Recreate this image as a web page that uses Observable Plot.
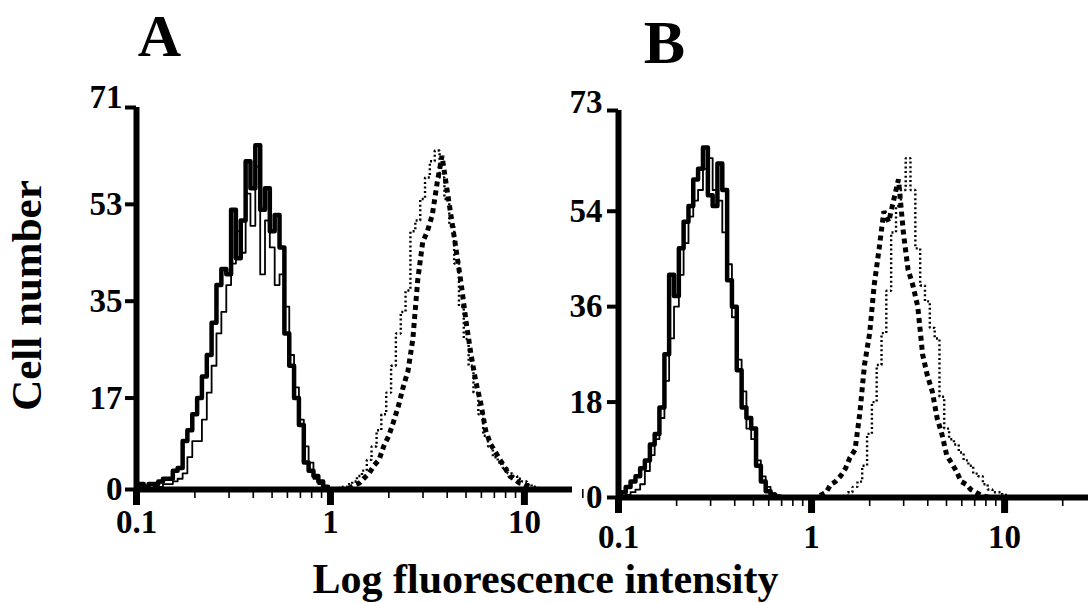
<!DOCTYPE html>
<html><head><meta charset="utf-8">
<script src="https://cdn.jsdelivr.net/npm/d3@7"></script>
<script src="https://cdn.jsdelivr.net/npm/@observablehq/plot@0.6"></script>
<style>
html,body{margin:0;padding:0;background:#fff;}
#chart{position:relative;width:1088px;height:603px;overflow:hidden;background:#fff;}
#chart svg{position:absolute;left:0;top:0;}
</style></head><body><div id="chart"></div>
<script>
// channel grids (log-spaced bins)
const grid1 = [0.100,0.106,0.112,0.119,0.126,0.133,0.141,0.150,0.158,0.168,0.178,0.188,0.200,0.211,0.224,0.237,0.251,0.266,0.282,0.299,0.316,0.335,0.355,0.376,0.398,0.422,0.447,0.473,0.501,0.531,0.562,0.596,0.631,0.668,0.708,0.750,0.794,0.841,0.891,0.944,1.000];
const grid2 = [1.00,1.06,1.12,1.19,1.26,1.33,1.41,1.50,1.58,1.68,1.78,1.88,2.00,2.11,2.24,2.37,2.51,2.66,2.82,2.99,3.16,3.35,3.55,3.76,3.98,4.22,4.47,4.73,5.01,5.31,5.62,5.96,6.31,6.68,7.08,7.50,7.94,8.41,8.91,9.44,10.0,10.6,11.2,11.9,12.6,13.3,14.1,15.0];

// Panel A
const aSolidThick = [0.5,1,0.5,1,1,1.5,2,2,3.5,4,9,11,14,17,21,25,31,38,41,40,52,43,50,61,56,64,52,56,48,51,45,29,23,17,12,5,3.5,2.5,1.5,0.5,0];
const aSolidThin  = [0,0,0,0,0.5,0.5,1,1,1.5,2,3,6,9,9,13,18,23,29,33,38,42,48,44,55,49,60,40,50,45,38,40,34,25,19,13,8,5,2,1,0.5,0];
const aDotted = [0,0,0.3,0.5,1,1.5,2.5,3.5,5.5,8,11,14,18,23,29,33,37,48,50,54,58,61,63,58,54,49,42,34,28,23,18,14,10,8,6,5,4,3,2.5,2,1.5,1,0.5,0.3,0,0,0,0];
const aDashed = [0,0,0,0,0.3,0.8,1.2,2.2,3,4.5,5.5,8,10,12.5,15.5,19,22,28,39,46,48,51,57,62,56,50,44,38,31,25,20,16,11,8.5,7,5.5,4,2.5,1.9,1.2,1,0.5,0,0,0,0,0,0];

// Panel B
const bSolidThick = [0.5,1,2,3,4,5.5,7,10,12,17,27,42,38,47,52,55,60,62,66,57,55,63,58,41,36,24,17,15,13,6,3,1.2,0.5,0.2,0,0,0,0,0,0,0];
const bSolidThin  = [0,0.3,0.5,1,1.5,2.5,5,8,11,15,22,30,36,42,48,53,56,58,62,64,58,56,50,44,34,26,20,13,11,7,4,2,0.8,0.3,0,0,0,0,0,0,0];
const bDotted = [0,0,0,0,0,0,0,0.3,1,2,3,6,12,18,25,31,39,50,55,58,64,58,47,40,37,32,30,19,13,11,10,8.5,7,6,4.5,4,2.5,1.5,1,1,0.5,0,0,0,0,0,0,0];
const bDashed = [0,0,0.5,1,2.5,3,4,5.5,7.5,9,16,25,31,40,47,54,52,56,60,50,43,40,36,27,23,20,15,12,8,6.5,5,3,2.5,1.5,1,0.5,0.2,0,0,0,0,0,0,0,0,0,0,0];

// ticks and texts
const yTicksA = [0,17,35,53,71];
const yTicksB = [0,18,36,54,73];
const xMajor = [0.1,1,10];
const xMajorLabels = ["0.1","1","10"];
const xMinor = [0.2,0.3,0.4,0.5,0.6,0.7,0.8,0.9,2,3,4,5,6,7,8,9,20];
const panelNames = ["A","B"];
const yTitle = "Cell number";
const xTitle = "Log fluorescence intensity";

const FONT = "'Liberation Serif','Times New Roman',serif";
const pts = (grid, vals) => vals.map((v, i) => ({x: grid[i], y: v}));

function panel(o) {
  const yMax = o.yTicks[o.yTicks.length - 1];
  return Plot.plot({
    width: 1088, height: 603,
    marginLeft: o.ml, marginRight: o.mr, marginTop: o.mt, marginBottom: o.mb,
    x: {type: "log", domain: [0.1, o.xMax], label: null},
    y: {domain: [0, yMax], label: null},
    style: {background: "transparent", fontFamily: FONT, fontWeight: "bold", fontSize: "33px", color: "black", overflow: "visible"},
    marks: [
      Plot.ruleY([0], {strokeWidth: 6}),
      Plot.ruleX([0.1], {y1: 0, y2: yMax, strokeWidth: 6}),
      Plot.axisX(xMinor, {tickSize: 9, strokeWidth: 1.6, tickFormat: () => "", label: null}),
      Plot.axisX(xMajor, {tickSize: 16, strokeWidth: 7, tickPadding: o.xPad, tickFormat: d => xMajorLabels[xMajor.indexOf(d)], fontSize: 33, fontWeight: "bold", fontFamily: FONT, label: null}),
      Plot.axisY(o.yTicks, {tickSize: 11, strokeWidth: 4, tickFormat: () => "", label: null}),
      Plot.text(o.yTicks.slice(0, -1), {y: d => d, text: d => String(d), frameAnchor: "left", lineAnchor: "middle", dx: o.yDx, textAnchor: "end", fontSize: 33, fontWeight: "bold", fontFamily: FONT}),
      Plot.text(o.yTicks.slice(-1), {y: d => d, text: d => String(d), frameAnchor: "left", lineAnchor: "middle", dx: o.yDx, dy: o.topDy, textAnchor: "end", fontSize: 33, fontWeight: "bold", fontFamily: FONT}),
      Plot.line(pts(grid1, o.thin), {x: "x", y: "y", curve: "step", strokeWidth: 1.8}),
      Plot.line(pts(grid1, o.thick), {x: "x", y: "y", curve: "step", strokeWidth: 4.5}),
      Plot.line(pts(grid2, o.dotted), {x: "x", y: "y", curve: "step", strokeWidth: 2.4, strokeDasharray: "2,2.6", strokeLinecap: "butt", strokeLinejoin: "miter"}),
      Plot.line(pts(grid2, o.dashed), {x: "x", y: "y", curve: "linear", strokeWidth: 5, strokeDasharray: "5,4", strokeLinecap: "butt", strokeLinejoin: "miter"}),
      ...o.extra
    ]
  });
}

const plotA = panel({
  ml: 136, mr: 516, mt: 107, mb: 114, xMax: 17.7, yTicks: yTicksA, xPad: 4, yDx: -14, topDy: -10,
  thick: aSolidThick, thin: aSolidThin, dotted: aDotted, dashed: aDashed,
  extra: [
    Plot.text([panelNames[0]], {text: d => d, frameAnchor: "top-left", lineAnchor: "middle", dx: 23, dy: -71, fontSize: 60, fontWeight: "bold", fontFamily: FONT, textAnchor: "middle"}),
    Plot.text([yTitle], {text: d => d, frameAnchor: "left", lineAnchor: "middle", dx: -109, dy: -3, rotate: -90, fontSize: 43, fontWeight: "bold", fontFamily: FONT, textAnchor: "middle"}),
    Plot.text([xTitle], {text: d => d, frameAnchor: "bottom-left", lineAnchor: "middle", dx: 409, dy: 90, fontSize: 42, fontWeight: "bold", fontFamily: FONT, textAnchor: "middle"})
  ]
});
const plotB = panel({
  ml: 618, mr: 0, mt: 110, mb: 106, xMax: 27.2, yTicks: yTicksB, xPad: 11, yDx: -16, topDy: -8,
  thick: bSolidThick, thin: bSolidThin, dotted: bDotted, dashed: bDashed,
  extra: [
    Plot.text([panelNames[1]], {text: d => d, frameAnchor: "top-left", lineAnchor: "middle", dx: 46, dy: -67, fontSize: 62, fontWeight: "bold", fontFamily: FONT, textAnchor: "middle"})
  ]
});
const c = document.getElementById("chart");
c.appendChild(plotA);
c.appendChild(plotB);
</script></body></html>
